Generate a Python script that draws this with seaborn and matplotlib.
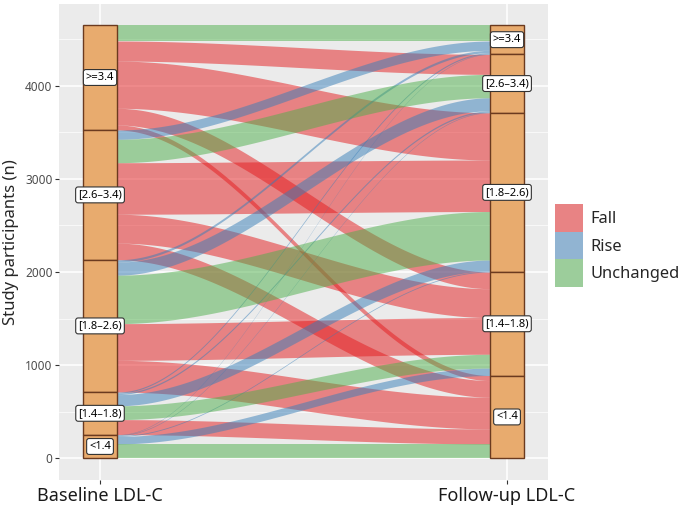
import numpy as np
import pandas as pd
import matplotlib
matplotlib.use("Agg")
import matplotlib.pyplot as plt
from matplotlib.patches import Patch, Rectangle
import seaborn as sns

sns.set_theme(style="darkgrid")
plt.rcParams["font.family"] = ["Noto Sans", "DejaVu Sans"]

PANEL_BG = "#EBEBEB"
STRATUM_FILL = "#E8AB6E"
STRATUM_EDGE = "#6B3A1F"
STRATUM_WIDTH = 1 / 12

# LDL-C groups, top of the stack first
LEVELS = [">=3.4", "[2.6–3.4)", "[1.8–2.6)", "[1.4–1.8)", "<1.4"]
AXIS_NAMES = ["Baseline LDL-C", "Follow-up LDL-C"]
STATUS = ["Fall", "Rise", "Unchanged"]
Y_TICKS = [0, 1000, 2000, 3000, 4000]

# rows = baseline group, columns = follow-up group (same order as LEVELS)
FLOW_COUNTS = [
    [172, 215, 507, 179, 54],
    [100, 251, 553, 310, 179],
    [25, 140, 520, 394, 340],
    [13, 15, 120, 148, 161],
    [5, 6, 9, 80, 155],
]


def build_flows(counts):
    rows = []
    for i, src in enumerate(LEVELS):
        for j, dst in enumerate(LEVELS):
            if i < j:
                status = "Fall"
            elif i > j:
                status = "Rise"
            else:
                status = "Unchanged"
            rows.append({"baseline": src, "followup": dst, "i": i, "j": j,
                         "n": counts[i][j], "status": status})
    return pd.DataFrame(rows)


def blend(colour, bg="#EBEBEB", alpha=0.5):
    c = np.array(matplotlib.colors.to_rgb(colour))
    b = np.array(matplotlib.colors.to_rgb(bg))
    return tuple(alpha * c + (1 - alpha) * b)


def plot_alluvial(flows):
    palette = dict(zip(STATUS, sns.color_palette("Set1", 3)))
    total = flows["n"].sum()
    left_size = flows.groupby("i")["n"].sum().reindex(range(len(LEVELS)))
    right_size = flows.groupby("j")["n"].sum().reindex(range(len(LEVELS)))
    left_top = total - np.concatenate([[0], np.cumsum(left_size.values)[:-1]])
    right_top = total - np.concatenate([[0], np.cumsum(right_size.values)[:-1]])

    # stack flows inside each stratum: by destination on the left, by origin on the right
    flows = flows.copy()
    flows["y_left"] = 0.0
    flows["y_right"] = 0.0
    for i in range(len(LEVELS)):
        sub = flows[flows["i"] == i].sort_values("j")
        offs = np.concatenate([[0], np.cumsum(sub["n"].values)[:-1]])
        flows.loc[sub.index, "y_left"] = left_top[i] - offs
    for j in range(len(LEVELS)):
        sub = flows[flows["j"] == j].sort_values("i")
        offs = np.concatenate([[0], np.cumsum(sub["n"].values)[:-1]])
        flows.loc[sub.index, "y_right"] = right_top[j] - offs

    fig = plt.figure(figsize=(6.85, 5.15), dpi=100)
    ax = fig.add_axes([0.0866, 0.068, 0.713, 0.924])
    ax.set_facecolor(PANEL_BG)

    x0, x1 = 1 + STRATUM_WIDTH / 2, 2 - STRATUM_WIDTH / 2
    t = np.linspace(0, 1, 200)
    s = 3 * t ** 2 - 2 * t ** 3
    xs = x0 + (x1 - x0) * t
    for status in STATUS:
        for _, f in flows[flows["status"] == status].iterrows():
            upper = f["y_left"] + (f["y_right"] - f["y_left"]) * s
            ax.fill_between(xs, upper - f["n"], upper, color=palette[status],
                            alpha=0.5, linewidth=0, zorder=2)

    # strata boxes and labels
    for xpos, tops, sizes in [(1, left_top, left_size.values),
                              (2, right_top, right_size.values)]:
        for k, lev in enumerate(LEVELS):
            ax.add_patch(Rectangle((xpos - STRATUM_WIDTH / 2, tops[k] - sizes[k]),
                                   STRATUM_WIDTH, sizes[k], facecolor=STRATUM_FILL,
                                   edgecolor=STRATUM_EDGE, linewidth=1, zorder=3))
            ax.text(xpos, tops[k] - sizes[k] / 2, lev, ha="center", va="center",
                    fontsize=8, fontweight="bold", color="black", zorder=4,
                    bbox=dict(boxstyle="round,pad=0.22", fc="white",
                              ec="#333333", lw=0.8))

    ax.set_xlim(0.9, 2.1)
    ax.set_ylim(-232, 4875)
    ax.set_xticks([1, 2])
    ax.set_xticklabels(AXIS_NAMES, fontsize=13, color="#1A1A1A")
    ax.set_yticks(Y_TICKS)
    ax.set_yticklabels([str(v) for v in Y_TICKS], fontsize=8.5, color="#4D4D4D")
    ax.set_yticks(np.arange(500, 4875, 1000), minor=True)
    ax.grid(which="major", color="white", linewidth=1.1)
    ax.grid(which="minor", axis="y", color="white", linewidth=0.5)
    ax.tick_params(axis="both", which="major", length=3, width=0.8,
                   color="#333333", left=True, bottom=True, pad=2)
    ax.tick_params(axis="y", which="minor", length=0)
    ax.set_ylabel("Study participants (n)", fontsize=12, labelpad=4)
    for sp in ax.spines.values():
        sp.set_visible(False)

    handles = [Patch(facecolor=blend(palette[st]), edgecolor="none") for st in STATUS]
    fig.legend(handles, STATUS, loc="center left",
               bbox_to_anchor=(555 / 685, 1 - 245.5 / 515), frameon=False,
               fontsize=11.8, handlelength=1.7, handleheight=2.2,
               labelspacing=0.0, handletextpad=0.45, borderaxespad=0,
               borderpad=0)

    fig.savefig("out.png", dpi=100)
    plt.close(fig)


if __name__ == "__main__":
    plot_alluvial(build_flows(FLOW_COUNTS))
